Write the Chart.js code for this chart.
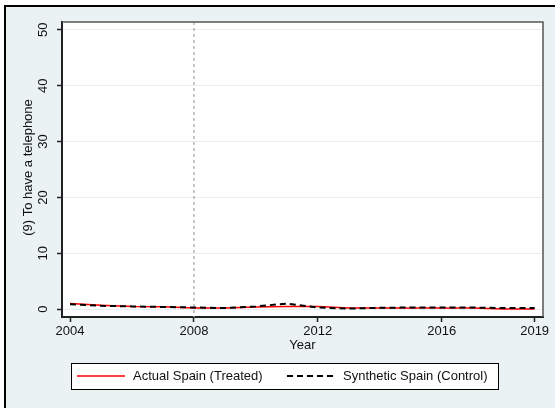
<!DOCTYPE html>
<html>
<head>
	<meta charset="UTF-8">
	<title>Telephone</title>
	<script src="https://cdn.jsdelivr.net/npm/chart.js@4.4.0/dist/chart.umd.min.js"></script>
	<style>
		body {
			margin:0;
			padding:0;
			overflow: hidden;
			background: #fff;
		}
	</style>
</head>
<body>
	<canvas id="chart" width="555" height="408"></canvas>
	<script>
		const years = [2004,2005,2006,2007,2008,2009,2010,2011,2012,2013,2014,2015,2016,2017,2018,2019];
		const actual = [1.0,0.7,0.5,0.45,0.2,0.2,0.4,0.5,0.5,0.2,0.2,0.2,0.2,0.2,0.05,0.05];
		const synthetic = [0.9,0.6,0.5,0.4,0.3,0.2,0.5,1.0,0.3,0.1,0.25,0.3,0.3,0.3,0.2,0.2];
		const xTicks = [2004,2008,2012,2016,2019];
		const yTicks = [0,10,20,30,40,50];
		const treatYear = 2008;
		const yTitle = '(9) To have a telephone';
		const xTitle = 'Year';
		const font = '"Liberation Sans", Arial, sans-serif';

		const toPoints = vals => years.map((yr, i) => ({x: yr, y: vals[i]}));

		// background, outer frame and white plot region
		const framePlugin = {
			id: 'frame',
			beforeDraw(chart) {
				const ctx = chart.ctx;
				const a = chart.chartArea;
				ctx.save();
				ctx.fillStyle = '#ffffff';
				ctx.fillRect(0, 0, chart.width, chart.height);
				ctx.fillStyle = '#eaf2f3';
				ctx.fillRect(5, 6, chart.width, chart.height);
				ctx.strokeStyle = '#000';
				ctx.lineWidth = 2;
				ctx.beginPath();
				ctx.moveTo(5, chart.height);
				ctx.lineTo(5, 6);
				ctx.lineTo(chart.width, 6);
				ctx.stroke();
				ctx.fillStyle = '#ffffff';
				ctx.fillRect(a.left, a.top, a.right - a.left, a.bottom - a.top);
				ctx.restore();
			},
			beforeDatasetsDraw(chart) {
				const ctx = chart.ctx;
				const a = chart.chartArea;
				const x = chart.scales.x.getPixelForValue(treatYear);
				ctx.save();
				ctx.strokeStyle = '#b4b4b4';
				ctx.lineWidth = 1.5;
				ctx.setLineDash([3, 3]);
				ctx.beginPath();
				ctx.moveTo(x, a.top);
				ctx.lineTo(x, a.bottom);
				ctx.stroke();
				ctx.restore();
			},
			afterDraw(chart) {
				const ctx = chart.ctx;
				const a = chart.chartArea;
				const ys = chart.scales.y;
				ctx.save();
				// top and right frame
				ctx.strokeStyle = '#555';
				ctx.lineWidth = 1.5;
				ctx.beginPath();
				ctx.moveTo(a.left, a.top);
				ctx.lineTo(a.right, a.top);
				ctx.lineTo(a.right, a.bottom);
				ctx.stroke();

				// rotated y tick labels and title
				ctx.fillStyle = '#111';
				ctx.font = '13px ' + font;
				ctx.textAlign = 'center';
				ctx.textBaseline = 'middle';
				ys.ticks.forEach(t => {
					ctx.save();
					ctx.translate(43, ys.getPixelForValue(t.value));
					ctx.rotate(-Math.PI / 2);
					ctx.fillText(String(t.value), 0, 0);
					ctx.restore();
				});
				ctx.save();
				ctx.translate(28, (a.top + a.bottom) / 2 - 2);
				ctx.rotate(-Math.PI / 2);
				ctx.fillText(yTitle, 0, 0);
				ctx.restore();

				// legend
				const lx = 71, ly = 363, lw = 427, lh = 26, mid = ly + lh / 2;
				ctx.fillStyle = '#fff';
				ctx.fillRect(lx, ly, lw, lh);
				ctx.strokeStyle = '#000';
				ctx.lineWidth = 1;
				ctx.strokeRect(lx + 0.5, ly + 0.5, lw, lh);
				const items = [{ds: chart.data.datasets[0], x: 77, tx: 133}, {ds: chart.data.datasets[1], x: 287, tx: 343}];
				items.forEach(it => {
					ctx.strokeStyle = it.ds.borderColor;
					ctx.lineWidth = it.ds.borderWidth;
					ctx.setLineDash(it.ds.borderDash || []);
					ctx.beginPath();
					ctx.moveTo(it.x, mid);
					ctx.lineTo(it.x + 48, mid);
					ctx.stroke();
					ctx.setLineDash([]);
					ctx.fillStyle = '#111';
					ctx.textAlign = 'left';
					ctx.fillText(it.ds.label, it.tx, mid);
				});
				ctx.restore();
			}
		};

		const ctx = document.getElementById('chart').getContext('2d');
		const myChart = new Chart(ctx, {
			type: 'line',
			data: {
				datasets: [{
					label: 'Actual Spain (Treated)',
					data: toPoints(actual),
					borderColor: '#ff0000',
					borderWidth: 1.5,
					pointRadius: 0,
					tension: 0,
					order: 2
				},
				{
					label: 'Synthetic Spain (Control)',
					data: toPoints(synthetic),
					borderColor: '#000000',
					borderWidth: 2,
					borderDash: [6, 4],
					pointRadius: 0,
					tension: 0,
					order: 1
				}]
			},
			options: {
				responsive: false,
				animation: false,
				layout: {padding: {left: 0, top: 22, right: 12, bottom: 55}},
				plugins: {
					legend: {display: false},
					tooltip: {enabled: false}
				},
				scales: {
					x: {
						type: 'linear',
						min: 2003.74,
						max: 2019.27,
						afterBuildTicks: s => { s.ticks = xTicks.map(v => ({value: v})); },
						afterFit: s => { s.height = 36; },
						border: {color: '#222', width: 2},
						grid: {drawOnChartArea: false, tickLength: 5, tickColor: '#222', tickWidth: 1.5},
						ticks: {
							color: '#111',
							font: {family: font, size: 13},
							padding: 2,
							maxRotation: 0,
							callback: v => String(v)
						},
						title: {display: true, text: xTitle, color: '#111', font: {family: font, size: 13}, padding: 0}
					},
					y: {
						min: -1.4,
						max: 51.4,
						afterBuildTicks: s => { s.ticks = yTicks.map(v => ({value: v})); },
						afterFit: s => { s.width = 62; },
						border: {color: '#222', width: 2},
						grid: {color: '#e6eff1', lineWidth: 1, tickLength: 5, tickColor: '#222', tickWidth: 1.5},
						ticks: {display: false}
					}
				}
			},
			plugins: [framePlugin]
		});
	</script>
</body>
</html>
